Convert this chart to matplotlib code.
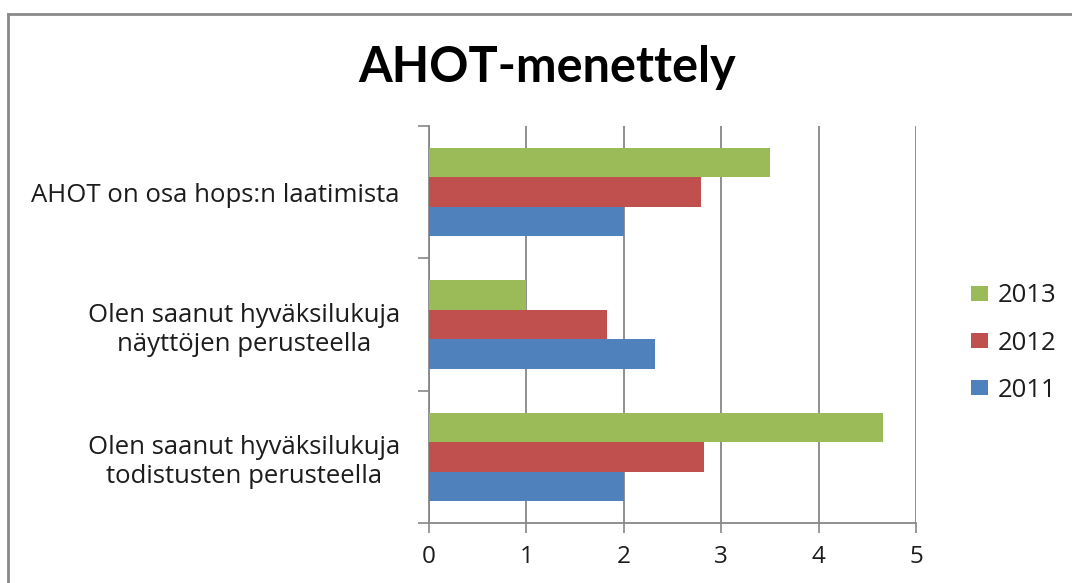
import numpy as np
import matplotlib.pyplot as plt
from matplotlib.lines import Line2D
from matplotlib.ticker import FixedLocator

# data (bottom category first)
categories = ["Olen saanut hyväksilukuja\ntodistusten perusteella",
              "Olen saanut hyväksilukuja\nnäyttöjen perusteella",
              "AHOT on osa hops:n laatimista"]
years = ["2011", "2012", "2013"]
v2011 = [2.0, 2.32, 2.0]
v2012 = [2.82, 1.83, 2.79]
v2013 = [4.66, 1.0, 3.5]
xticks = [0, 1, 2, 3, 4, 5]

colors = ["#4F81BD", "#C0504D", "#9BBB59"]
gridc = "#878787"
txtc = "#1c1c1c"

plt.rcParams['font.family'] = ['Open Sans', 'DejaVu Sans']

fig = plt.figure(figsize=(10.72, 5.83), dpi=100)
ax = fig.add_axes([429 / 1072, 1 - 523 / 583, 487 / 1072, 397 / 583])

y = np.arange(len(categories))
h = 1 / 4.5
for i, (vals, yr) in enumerate(zip([v2011, v2012, v2013], years)):
    ax.barh(y + (i - 1) * h, vals, height=h, color=colors[i], label=yr, zorder=3)

ax.set_xlim(0, 5)
ax.set_ylim(-0.5, len(categories) - 0.5)
ax.set_xticks(xticks)
ax.set_xticklabels([str(t) for t in xticks], fontsize=17.5, color=txtc)
ax.set_yticks(y)
ax.set_yticklabels(categories, fontsize=18.5, color=txtc, multialignment='center', linespacing=1.22)
ax.yaxis.set_minor_locator(FixedLocator(np.arange(-0.5, len(categories), 1)))
ax.tick_params(axis='y', which='major', length=0, pad=21)
ax.tick_params(axis='y', which='minor', length=8, width=1.2, color=gridc)
ax.tick_params(axis='x', length=7, width=1.2, color=gridc, pad=9)
ax.grid(axis='x', color=gridc, linewidth=1.3, zorder=0)
for side in ['top', 'right']:
    ax.spines[side].set_visible(False)
for side in ['left', 'bottom']:
    ax.spines[side].set_color(gridc)
    ax.spines[side].set_linewidth(1.3)

fig.text(547 / 1072, 1 - 68 / 583, "AHOT-menettely", fontsize=35, fontweight='bold',
         family=['Lato', 'DejaVu Sans'], ha='center', va='center', color='black')

handles, labels = ax.get_legend_handles_labels()
leg = fig.legend(handles[::-1], labels[::-1], loc='center left', bbox_to_anchor=(958 / 1072, 1 - 343 / 583),
                 frameon=False, fontsize=18.5, handlelength=0.68, handleheight=0.55, handletextpad=0.35,
                 labelspacing=0.86, labelcolor=txtc, borderpad=0)

# outer chart frame (only left and top edge are visible in the crop)
fig.add_artist(Line2D([8 / 1072, 8 / 1072], [0, 1 - 14 / 583], transform=fig.transFigure,
                      color="#8a8a8a", linewidth=2))
fig.add_artist(Line2D([8 / 1072, 1], [1 - 14 / 583, 1 - 14 / 583], transform=fig.transFigure,
                      color="#8a8a8a", linewidth=2))

fig.savefig("out.png", dpi=100)
